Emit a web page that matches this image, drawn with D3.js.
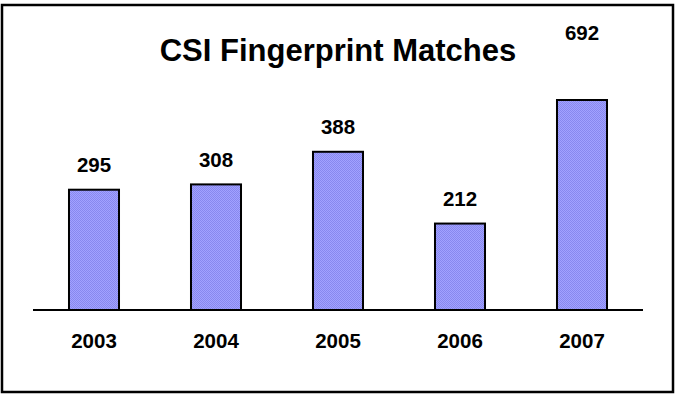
<!DOCTYPE html>
<html>
<head>
<meta charset="utf-8">
<script src="https://cdn.jsdelivr.net/npm/d3@7"></script>
<style>
  html, body { margin: 0; padding: 0; background: #fff; }
  svg { display: block; font-family: Arial, "Liberation Sans", sans-serif; }
</style>
</head>
<body>
<svg id="chart" width="678" height="394"></svg>
<script>
// Yearly fingerprint match counts
const years = ["2003", "2004", "2005", "2006", "2007"];
const matches = [295, 308, 388, 212, 692];
const title = "CSI Fingerprint Matches";
const axisMax = 515; // value-axis ceiling; taller bars are cut off at the top of the plot

const svg = d3.select("#chart");

// Outer frame
svg.append("rect")
  .attr("x", 2).attr("y", 5)
  .attr("width", 671).attr("height", 387)
  .attr("fill", "#fff").attr("stroke", "#000").attr("stroke-width", 2.5);

// Checkered fill for the bars
const defs = svg.append("defs");
const pat = defs.append("pattern")
  .attr("id", "dots").attr("patternUnits", "userSpaceOnUse")
  .attr("width", 2).attr("height", 2);
pat.append("rect").attr("width", 2).attr("height", 2).attr("fill", "#a2a2ff");
pat.append("rect").attr("width", 1).attr("height", 1).attr("fill", "#8888ee");
pat.append("rect").attr("x", 1).attr("y", 1).attr("width", 1).attr("height", 1).attr("fill", "#8888ee");

const plot = { left: 33, right: 643, top: 100, bottom: 310 };

const x = d3.scaleBand()
  .domain(years)
  .range([plot.left, plot.right])
  .paddingInner(0.59)
  .paddingOuter(0.295);

const y = d3.scaleLinear()
  .domain([0, axisMax])
  .range([plot.bottom, plot.top]);

const yClamped = y.copy().clamp(true);

// Title
svg.append("text")
  .attr("x", 338).attr("y", 61)
  .attr("text-anchor", "middle")
  .attr("font-size", 31).attr("font-weight", "bold")
  .text(title);

// Bars
const data = years.map((yr, i) => ({ year: yr, value: matches[i] }));

svg.append("g").selectAll("rect")
  .data(data)
  .join("rect")
  .attr("x", d => x(d.year))
  .attr("y", d => yClamped(d.value))
  .attr("width", x.bandwidth())
  .attr("height", d => plot.bottom - yClamped(d.value))
  .attr("fill", "url(#dots)")
  .attr("stroke", "#000").attr("stroke-width", 2);

// Value labels; labels of cut-off bars sit near the top of the frame
svg.append("g").selectAll("text")
  .data(data)
  .join("text")
  .attr("x", d => x(d.year) + x.bandwidth() / 2)
  .attr("y", d => d.value > axisMax ? 40 : y(d.value) - 17.5)
  .attr("text-anchor", "middle")
  .attr("font-size", 20.5).attr("font-weight", "bold")
  .text(d => d.value);

// Category axis
const xAxis = d3.axisBottom(x).tickSize(0).tickPadding(0);
const gx = svg.append("g")
  .attr("transform", `translate(0,${plot.bottom})`)
  .call(xAxis);
gx.select(".domain")
  .attr("d", `M${plot.left},0H${plot.right}`)
  .attr("stroke", "#000").attr("stroke-width", 2);
gx.selectAll(".tick text")
  .attr("y", 38).attr("dy", null)
  .attr("fill", "#000")
  .attr("font-family", "Arial, 'Liberation Sans', sans-serif")
  .attr("font-size", 20.5).attr("font-weight", "bold");
</script>
</body>
</html>
